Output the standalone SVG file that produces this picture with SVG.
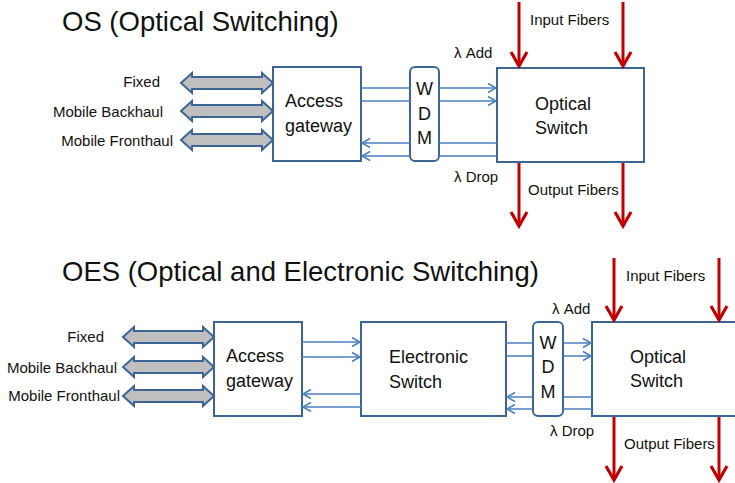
<svg xmlns="http://www.w3.org/2000/svg" width="735" height="483" viewBox="0 0 735 483">
<style>
text{font-family:"Liberation Sans",Arial,sans-serif;fill:#111}
.title{font-size:27.5px}
.lbl{font-size:15px}
.box{font-size:18px}
.bx{fill:#fff;stroke:#3c6596;stroke-width:2}
.blk{fill:#bfbfbf;stroke:#3c6596;stroke-width:2;stroke-linejoin:miter}
.ln{stroke:#4a7ebf;stroke-width:1.5;fill:none}
.red{stroke:#c00000;stroke-width:3;fill:none}
</style>
<defs>
<marker id="ah" viewBox="-10 -6 12 12" markerWidth="12" markerHeight="12" refX="0" refY="0" orient="auto" markerUnits="userSpaceOnUse">
<path d="M-8,-4.5 L0,0 L-8,4.5" fill="none" stroke="#4a7ebf" stroke-width="1.5"/>
</marker>
<marker id="rh" viewBox="-16 -11 19 22" markerWidth="19" markerHeight="22" refX="0" refY="0" orient="auto" markerUnits="userSpaceOnUse">
<path d="M-14,-8 L0,0 L-14,8" fill="none" stroke="#c00000" stroke-width="3.2"/>
</marker>
</defs>

<text class="title" x="62" y="31">OS (Optical Switching)</text>
<text class="title" x="62" y="281">OES (Optical and Electronic Switching)</text>

<!-- Top section -->
<g id="top-labels">
<text class="lbl" x="160" y="87" text-anchor="end">Fixed</text>
<text class="lbl" x="163" y="117" text-anchor="end">Mobile Backhaul</text>
<text class="lbl" x="173" y="146" text-anchor="end">Mobile Fronthaul</text>
<text class="lbl" x="530" y="25">Input Fibers</text>
<text class="lbl" x="528" y="195">Output Fibers</text>
<text class="lbl" x="454" y="58">λ Add</text>
<text class="lbl" x="454" y="182">λ Drop</text>
</g>
<g id="os-access">
<rect class="bx" x="273" y="67" width="88" height="94"/>
<text class="box" x="285" y="107">Access</text>
<text class="box" x="285" y="132">gateway</text>
</g>
<g id="os-wdm">
<rect class="bx" x="410" y="67" width="29" height="94" rx="5"/>
<text class="box" x="424.5" y="95" text-anchor="middle">W</text>
<text class="box" x="424.5" y="120" text-anchor="middle">D</text>
<text class="box" x="424.5" y="144" text-anchor="middle">M</text>
</g>
<g id="os-optical">
<rect class="bx" x="497" y="68" width="147" height="94"/>
<text class="box" x="535" y="110">Optical</text>
<text class="box" x="535" y="134">Switch</text>
</g>

<!-- Bottom section -->
<g id="bottom-labels">
<text class="lbl" x="104" y="342" text-anchor="end">Fixed</text>
<text class="lbl" x="117" y="373" text-anchor="end">Mobile Backhaul</text>
<text class="lbl" x="120" y="401" text-anchor="end">Mobile Fronthaul</text>
<text class="lbl" x="626" y="281">Input Fibers</text>
<text class="lbl" x="624" y="449">Output Fibers</text>
<text class="lbl" x="552" y="314">λ Add</text>
<text class="lbl" x="550" y="436">λ Drop</text>
</g>
<g id="oes-access">
<rect class="bx" x="214" y="322" width="88" height="94"/>
<text class="box" x="226" y="362">Access</text>
<text class="box" x="226" y="387">gateway</text>
</g>
<g id="oes-electronic">
<rect class="bx" x="361" y="322" width="145" height="94"/>
<text class="box" x="389" y="363">Electronic</text>
<text class="box" x="389" y="388">Switch</text>
</g>
<g id="oes-wdm">
<rect class="bx" x="533" y="322" width="30" height="94" rx="5"/>
<text class="box" x="548" y="349" text-anchor="middle">W</text>
<text class="box" x="548" y="373" text-anchor="middle">D</text>
<text class="box" x="548" y="398" text-anchor="middle">M</text>
</g>
<g id="oes-optical">
<rect class="bx" x="592" y="322" width="150" height="94"/>
<text class="box" x="630" y="363">Optical</text>
<text class="box" x="630" y="387">Switch</text>
</g>

<g id="connectors">
<!-- block arrows top -->
<path class="blk" d="M181,83 L192,73 L192,77 L262,77 L262,73 L273,83 L262,93 L262,89 L192,89 L192,93 Z"/>
<path class="blk" d="M181,111 L192,101 L192,105 L262,105 L262,101 L273,111 L262,121 L262,117 L192,117 L192,121 Z"/>
<path class="blk" d="M181,140 L192,130 L192,134 L262,134 L262,130 L273,140 L262,150 L262,146 L192,146 L192,150 Z"/>
<!-- block arrows bottom -->
<path class="blk" d="M123,337 L134,327 L134,331 L203,331 L203,327 L214,337 L203,347 L203,343 L134,343 L134,347 Z"/>
<path class="blk" d="M123,367 L134,357 L134,361 L203,361 L203,357 L214,367 L203,377 L203,373 L134,373 L134,377 Z"/>
<path class="blk" d="M123,396 L134,386 L134,390 L203,390 L203,386 L214,396 L203,406 L203,402 L134,402 L134,406 Z"/>

<!-- top thin lines -->
<line class="ln" x1="361" y1="88" x2="410" y2="88"/>
<line class="ln" x1="439" y1="88" x2="496" y2="88" marker-end="url(#ah)"/>
<line class="ln" x1="361" y1="101" x2="410" y2="101"/>
<line class="ln" x1="439" y1="101" x2="496" y2="101" marker-end="url(#ah)"/>
<line class="ln" x1="497" y1="143" x2="439" y2="143"/>
<line class="ln" x1="410" y1="143" x2="362" y2="143" marker-end="url(#ah)"/>
<line class="ln" x1="497" y1="156" x2="439" y2="156"/>
<line class="ln" x1="410" y1="156" x2="362" y2="156" marker-end="url(#ah)"/>

<!-- bottom thin lines -->
<line class="ln" x1="302" y1="342" x2="360" y2="342" marker-end="url(#ah)"/>
<line class="ln" x1="302" y1="357" x2="360" y2="357" marker-end="url(#ah)"/>
<line class="ln" x1="361" y1="394" x2="303" y2="394" marker-end="url(#ah)"/>
<line class="ln" x1="361" y1="407" x2="303" y2="407" marker-end="url(#ah)"/>
<line class="ln" x1="506" y1="343" x2="533" y2="343"/>
<line class="ln" x1="563" y1="343" x2="591" y2="343" marker-end="url(#ah)"/>
<line class="ln" x1="506" y1="356" x2="533" y2="356"/>
<line class="ln" x1="563" y1="356" x2="591" y2="356" marker-end="url(#ah)"/>
<line class="ln" x1="592" y1="397" x2="563" y2="397"/>
<line class="ln" x1="533" y1="397" x2="507" y2="397" marker-end="url(#ah)"/>
<line class="ln" x1="592" y1="409" x2="563" y2="409"/>
<line class="ln" x1="533" y1="409" x2="507" y2="409" marker-end="url(#ah)"/>

<!-- red fibers top -->
<line class="red" x1="519" y1="2" x2="519" y2="66" marker-end="url(#rh)"/>
<line class="red" x1="623" y1="2" x2="623" y2="66" marker-end="url(#rh)"/>
<line class="red" x1="519" y1="163" x2="519" y2="226" marker-end="url(#rh)"/>
<line class="red" x1="623" y1="163" x2="623" y2="226" marker-end="url(#rh)"/>
<!-- red fibers bottom -->
<line class="red" x1="614" y1="258" x2="614" y2="320" marker-end="url(#rh)"/>
<line class="red" x1="719" y1="258" x2="719" y2="320" marker-end="url(#rh)"/>
<line class="red" x1="614" y1="417" x2="614" y2="480" marker-end="url(#rh)"/>
<line class="red" x1="719" y1="417" x2="719" y2="480" marker-end="url(#rh)"/>
</g>
</svg>
